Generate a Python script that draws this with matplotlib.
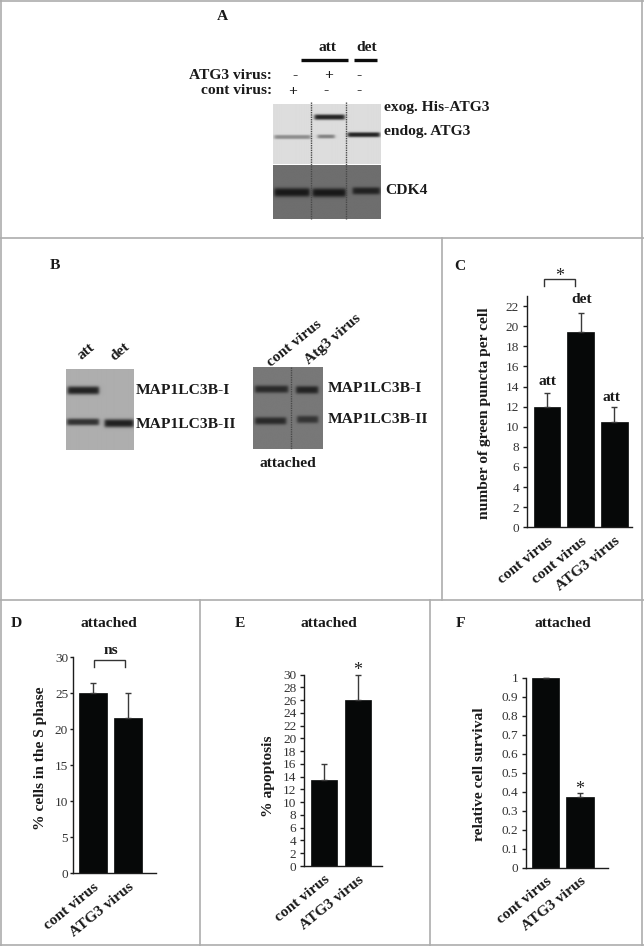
import numpy as np
import matplotlib
matplotlib.use("Agg")
import matplotlib.pyplot as plt
from matplotlib.transforms import ScaledTranslation

W, H = 644, 946
DPI = 100
plt.rcParams['font.family'] = ['Liberation Serif', 'DejaVu Serif']

# ---- chart data ----
cats_c = ['cont virus', 'cont virus', 'ATG3 virus']
vals_c = [12.0, 19.4, 10.5]
top_c = [13.4, 21.3, 12.0]
ticks_c = list(range(0, 23, 2))

cats_d = ['cont virus', 'ATG3 virus']
vals_d = [25.0, 21.6]
top_d = [26.4, 25.0]
ticks_d = [0, 5, 10, 15, 20, 25, 30]

cats_e = ['cont virus', 'ATG3 virus']
vals_e = [13.5, 26.0]
top_e = [16.0, 30.0]
ticks_e = list(range(0, 31, 2))

cats_f = ['cont virus', 'ATG3 virus']
vals_f = [1.0, 0.37]
top_f = [1.0, 0.395]
ticks_f = [0, 0.1, 0.2, 0.3, 0.4, 0.5, 0.6, 0.7, 0.8, 0.9, 1]
ticklabels_f = ['0', '0.1', '0.2', '0.3', '0.4', '0.5', '0.6', '0.7', '0.8', '0.9', '1']

# band darkness read from the blots
dark_a_exog = [0.0, 0.92, 0.0]
dark_a_endog = [0.40, 0.45, 0.92]
dark_a_cdk4 = [0.95, 0.95, 0.85]
dark_b1_i = [0.90, 0.0]
dark_b1_ii = [0.80, 0.92]
dark_b2_i = [0.78, 0.85]
dark_b2_ii = [0.78, 0.68]

FONT_B = dict(fontweight='bold', fontsize=11.15, color='#1a1a1a')
LINE = '#1c1c1c'
TICK = '#333333'

fig = plt.figure(figsize=(W / DPI, H / DPI), dpi=DPI, facecolor='white')
px = fig.add_axes([0, 0, 1, 1], zorder=5)
px.set_xlim(0, W)
px.set_ylim(H, 0)
px.axis('off')
px.patch.set_alpha(0)


def t(x, y, s, ha='center', va='center', **kw):
    o = dict(FONT_B)
    o.update(kw)
    px.text(x, y, s, ha=ha, va=va, **o)


def blot(x0, x1, y0, y1, bg, bands, dotted=()):
    n_x, n_y = int((x1 - x0) * 3), int((y1 - y0) * 3)
    xs = np.linspace(x0, x1, n_x)[None, :]
    ys = np.linspace(y0, y1, n_y)[:, None]
    img = np.full((n_y, n_x), bg, dtype=float)
    for bx0, bx1, by, sig, dark in bands:
        if dark <= 0:
            continue
        prof_x = 0.5 * (np.tanh((xs - bx0) / 1.8) - np.tanh((xs - bx1) / 1.8))
        prof_y = np.exp(-0.5 * np.abs((ys - by) / sig) ** 3)
        a = dark * prof_x * prof_y
        img = img * (1 - a) + 0.08 * a
    px.imshow(img, extent=(x0, x1, y1, y0), cmap='gray', vmin=0, vmax=1,
              aspect='auto', interpolation='bilinear', zorder=1)
    for dx, dy0, dy1 in dotted:
        px.plot([dx, dx], [dy0, dy1], color='#4a4a4a', lw=1.0, ls=(0, (1, 0.7)), zorder=2)


def bar_panel(x0, x1, y_base, y_top, c0, spacing, bar_px, vals, tops, cats, ticks,
              ylim, ticklabels=None, tick_len=3, tick_pad=2.5):
    ax = fig.add_axes([x0 / W, 1 - y_base / H, (x1 - x0) / W, (y_base - y_top) / H])
    pos = np.arange(len(vals))
    ax.bar(pos, vals, width=bar_px / spacing, color='#060808', edgecolor='#060808', linewidth=0.5)
    up = np.array(tops) - np.array(vals)
    ax.errorbar(pos, vals, yerr=[np.zeros(len(vals)), up], fmt='none', ecolor='#3a3a3a',
                elinewidth=1.0, capsize=2, capthick=1.0, zorder=1, clip_on=False)
    ax.set_xlim((x0 - c0) / spacing, (x1 - c0) / spacing)
    ax.set_ylim(*ylim)
    ax.set_yticks(ticks)
    if ticklabels:
        ax.set_yticklabels(ticklabels)
    ax.set_xticks(pos)
    ax.set_xticklabels(cats, rotation=39, ha='right', va='top', rotation_mode='anchor',
                       fontweight='bold', fontsize=11.15, color='#1a1a1a')
    shift = ScaledTranslation(-3 / DPI, 0, fig.dpi_scale_trans)
    for lab in ax.get_xticklabels():
        lab.set_transform(lab.get_transform() + shift)
    ax.tick_params(axis='x', length=0, pad=5)
    ax.tick_params(axis='y', length=tick_len, width=1, color=LINE, labelsize=9.5,
                   labelcolor=TICK, pad=tick_pad)
    for s in ('top', 'right'):
        ax.spines[s].set_visible(False)
    for s in ('left', 'bottom'):
        ax.spines[s].set_color(LINE)
        ax.spines[s].set_linewidth(1.0)
    ax.patch.set_alpha(0)
    return ax


def bracket(x0, x1, ytop, ybot):
    px.plot([x0, x0, x1, x1], [ybot, ytop, ytop, ybot], color='#333333', lw=1.0,
            solid_joinstyle='miter')


# ---- panel separators ----
SEP = '#adadad'
for xs, ys in [((0, W), (1, 1)), ((0, W), (238.5, 238.5)), ((0, W), (600, 600)),
               ((0, W), (945, 945)), ((442, 442), (238.5, 600)),
               ((200, 200), (600, 946)), ((430, 430), (600, 946)),
               ((0.8, 0.8), (0, 946)), ((642.5, 642.5), (0, 946))]:
    px.plot(xs, ys, color=SEP, lw=1.2, zorder=0)

# ---- panel A ----
t(222.7, 16.7, 'A')
t(327.3, 47.5, 'att')
t(366.7, 47.5, 'det')
px.plot([301, 348], [60.3, 60.3], color='#0c0c0c', lw=2.4, solid_capstyle='butt')
px.plot([354, 377], [60.3, 60.3], color='#0c0c0c', lw=2.4, solid_capstyle='butt')
t(271.7, 75.7, 'ATG3 virus:', ha='right')
t(271.7, 91, 'cont virus:', ha='right')
for x, s in zip((295, 329, 359.3), ('-', '+', '-')):
    t(x, 75.5, s)
for x, s in zip((292.7, 326, 359.3), ('+', '-', '-')):
    t(x, 91, s)
blot(272.7, 380, 104, 164, 0.865,
     [(274, 310, 137, 1.7, dark_a_endog[0]),
      (317, 334, 136.5, 1.6, dark_a_endog[1]),
      (347, 379, 134.7, 2.0, dark_a_endog[2]),
      (314, 344, 117, 2.2, dark_a_exog[1])])
blot(272.7, 380, 166, 219.3, 0.43,
     [(274, 309, 193, 3.5, dark_a_cdk4[0]),
      (312, 345, 193.3, 3.5, dark_a_cdk4[1]),
      (352, 379, 191.5, 2.9, dark_a_cdk4[2])])
for x in (311, 346.3):
    px.plot([x, x], [102, 219.3], color='#4a4a4a', lw=1.0, ls=(0, (1, 0.7)), zorder=2)
t(384.3, 108, 'exog. His-ATG3', ha='left')
t(384.3, 132, 'endog. ATG3', ha='left')
t(385.7, 190.7, 'CDK4', ha='left')

# ---- panel B ----
t(55, 265, 'B')
t(86, 352, 'att', rotation=40)
t(120, 352, 'det', rotation=40)
blot(65.7, 133, 369, 450, 0.68,
     [(67.3, 98.3, 390.3, 3.3, dark_b1_i[0]),
      (66.7, 98.3, 422, 2.8, dark_b1_ii[0]),
      (104, 132.7, 423.3, 3.3, dark_b1_ii[1])])
t(136, 390, 'MAP1LC3B-I', ha='left')
t(136, 424, 'MAP1LC3B-II', ha='left')
t(294.3, 344, 'cont virus', rotation=39)
t(332.7, 339, 'Atg3 virus', rotation=41)
blot(253, 322.7, 367, 448.7, 0.47,
     [(255, 288, 389, 3.0, dark_b2_i[0]),
      (296, 318, 389.7, 3.1, dark_b2_i[1]),
      (255, 286, 420.7, 3.0, dark_b2_ii[0]),
      (297, 318, 419.3, 3.0, dark_b2_ii[1])],
     dotted=[(290.7, 367, 448.7)])
t(327.3, 388, 'MAP1LC3B-I', ha='left')
t(327.3, 419, 'MAP1LC3B-II', ha='left')
t(288.3, 463.3, 'attached')

# ---- panel C ----
STAR = dict(fontweight='normal', color='#222222', fontsize=13)
t(460, 266, 'C')
bar_panel(526.7, 631.7, 527.3, 296, 547, 33.7, 26.7, vals_c, top_c, cats_c, ticks_c, (0, 23))
bracket(544, 575.3, 279, 286)
t(560, 276, '*', **STAR)
t(581.7, 299, 'det')
t(547.7, 381.7, 'att')
t(611.7, 397.7, 'att')
t(485, 413.3, 'number of green puncta per cell', rotation=90)

# ---- panel D ----
t(16.7, 623, 'D')
t(109.3, 623.3, 'attached')
bar_panel(73, 156, 873.3, 657.3, 93.3, 34.5, 28, vals_d, top_d, cats_d, ticks_d, (0, 30),
          tick_len=2, tick_pad=1.5)
bracket(94.3, 125.3, 659.7, 667.3)
t(110.7, 650, 'ns')
t(40.7, 758.3, '% cells in the S phase', rotation=90)

# ---- panel E ----
t(240, 623, 'E')
t(329, 623.3, 'attached')
bar_panel(304, 382.3, 866, 674.7, 324, 34, 26, vals_e, top_e, cats_e, ticks_e, (0, 30))
t(357.7, 670.5, '*', **STAR)
t(268.3, 775.8, '% apoptosis', rotation=90)

# ---- panel F ----
t(460, 623, 'F')
t(563.3, 623.3, 'attached')
bar_panel(526, 608, 867.7, 677.7, 545.5, 34.5, 27.5, vals_f, top_f, cats_f, ticks_f, (0, 1),
          ticklabels=ticklabels_f)
t(580, 789.5, '*', **STAR)
t(480, 773.7, 'relative cell survival', rotation=90)

px.set_xlim(0, W)
px.set_ylim(H, 0)
fig.savefig('out.png', dpi=DPI, facecolor='white')
